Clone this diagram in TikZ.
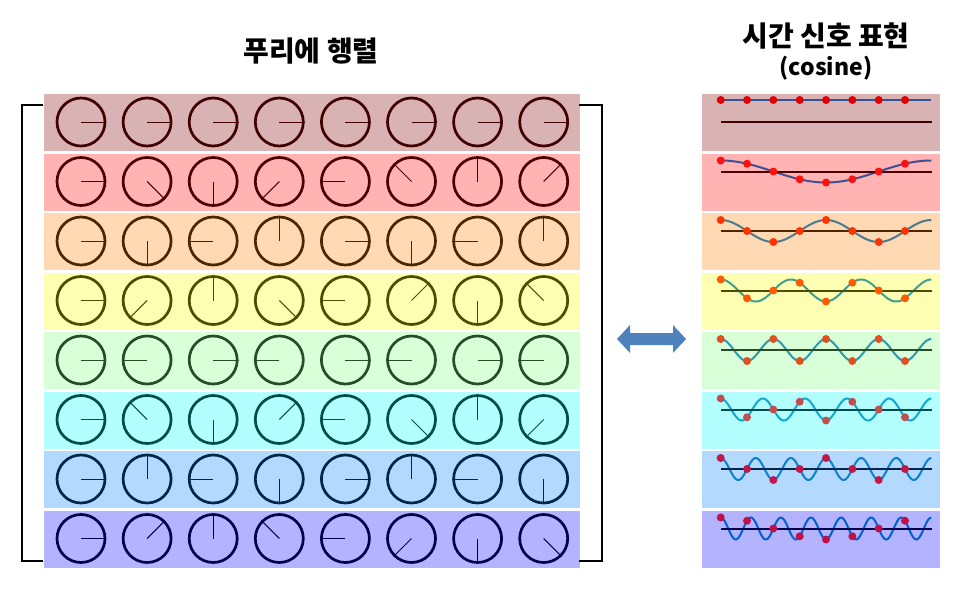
\documentclass[tikz,border=0pt]{standalone}
\usepackage{fontspec}
\newfontfamily\krfont{Noto Sans CJK KR}

% row colours: background, dial, wave, sample
\definecolor{rowbg0}{HTML}{D9B3B3}
\definecolor{rowbg1}{HTML}{FFB3B3}
\definecolor{rowbg2}{HTML}{FFD9B3}
\definecolor{rowbg3}{HTML}{FFFFB3}
\definecolor{rowbg4}{HTML}{D9FFD9}
\definecolor{rowbg5}{HTML}{B3FFFF}
\definecolor{rowbg6}{HTML}{B3D9FF}
\definecolor{rowbg7}{HTML}{B3B3FF}
\definecolor{rowfg0}{HTML}{400000}
\definecolor{rowfg1}{HTML}{4D0000}
\definecolor{rowfg2}{HTML}{4D2600}
\definecolor{rowfg3}{HTML}{4D4D00}
\definecolor{rowfg4}{HTML}{264D26}
\definecolor{rowfg5}{HTML}{004D4D}
\definecolor{rowfg6}{HTML}{00264D}
\definecolor{rowfg7}{HTML}{00004D}
\definecolor{wave0}{HTML}{2F5597}
\definecolor{wave1}{HTML}{3F5095}
\definecolor{wave2}{HTML}{4A7A90}
\definecolor{wave3}{HTML}{40A090}
\definecolor{wave4}{HTML}{2C9AA8}
\definecolor{wave5}{HTML}{10A8D0}
\definecolor{wave6}{HTML}{0A80D0}
\definecolor{wave7}{HTML}{0060D0}
\definecolor{dot0}{HTML}{E00000}
\definecolor{dot1}{HTML}{FF1010}
\definecolor{dot2}{HTML}{FF3300}
\definecolor{dot3}{HTML}{FF5A00}
\definecolor{dot4}{HTML}{E05020}
\definecolor{dot5}{HTML}{C05050}
\definecolor{dot6}{HTML}{C01848}
\definecolor{dot7}{HTML}{C0104A}
\definecolor{linkblue}{HTML}{4F81BD}

\begin{document}
\begin{tikzpicture}[x=1pt,y=-1pt,
    dial/.style={circle, draw, line width=2.7pt, minimum size=48pt, inner sep=0pt},
    hand/.style={line width=1pt},
    heading/.style={font=\krfont\bfseries\fontsize{28}{32}\selectfont},
    subheading/.style={font=\krfont\bfseries\fontsize{23}{27}\selectfont}]
    \useasboundingbox (0,0) rectangle (975,594);

    % titles
    \node[heading] (matrixtitle) at (311,51) {푸리에 행렬};
    \node[heading] (signaltitle) at (826,36) {시간 신호 표현};
    \node[subheading] (cosinetitle) at (826,68) {(cosine)};

    % rows
    \foreach \k in {0,...,7}{
        \pgfmathsetmacro\rowtop{94+59.5*\k}
        \pgfmathsetmacro\rowmid{\rowtop+28}
        \pgfmathsetmacro\rowaxis{\k==0 ? \rowtop+27.5 : \rowtop+18}
        \pgfmathsetmacro\waveamp{\k==0 ? 21.5 : 11}
        \fill[rowbg\k] (44,\rowtop) rectangle ++(536,57);
        \fill[rowbg\k] (702,\rowtop) rectangle ++(238,57);
        \foreach \n in {0,...,7}{
            \pgfmathtruncatemacro\ang{mod(2880-45*\k*\n,360)}
            \node[dial, draw=rowfg\k] (c\k\n) at ({81+66.1*\n},\rowmid) {};
            \draw[hand, rowfg\k] (c\k\n.center) -- (c\k\n.\ang);
        }
        \draw[line width=2pt, wave\k] plot[domain=0:8, samples=161, smooth]
            ({720.7+26.33*\x},{\rowaxis-\waveamp*cos(45*\k*\x)});
        \draw[line width=2pt, rowfg\k] (721,\rowaxis) -- (932,\rowaxis);
        \foreach \n in {0,...,7}
            \fill[dot\k] ({720.7+26.33*\n},{\rowaxis-\waveamp*cos(45*\k*\n)}) circle (4pt);
    }

    % matrix brackets
    \draw[line width=2pt] (43,105) -| (22,561) -- (43,561);
    \draw[line width=2pt] (579,105) -| (602,561) -- (579,561);

    % double arrow
    \fill[linkblue] (617,339) -- (630,325) -- (630,333) -- (673,333) -- (673,325)
        -- (686,339) -- (673,353) -- (673,345) -- (630,345) -- (630,353) -- cycle;
\end{tikzpicture}
\end{document}
